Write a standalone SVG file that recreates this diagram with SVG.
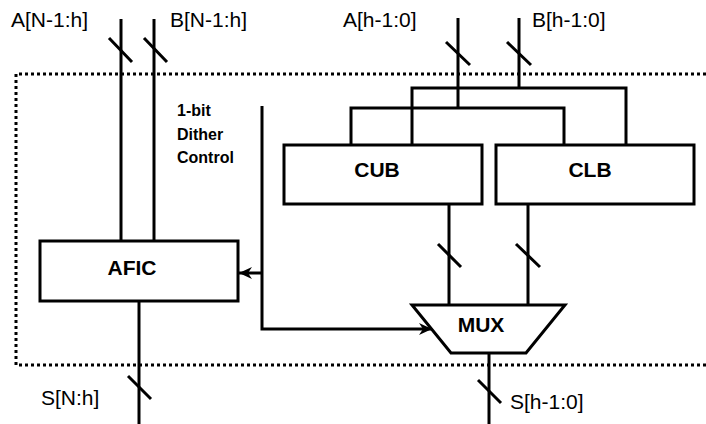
<svg xmlns="http://www.w3.org/2000/svg" width="706" height="424" viewBox="0 0 706 424">
<style>
.w{fill:none;stroke:#000;stroke-width:3}
.box{fill:#fff;stroke:#000;stroke-width:3}
.dot{fill:none;stroke:#000;stroke-width:3;stroke-dasharray:3 3}
.lbl{font-family:"Liberation Sans",Arial,sans-serif;font-size:21px;fill:#000}
.bl{font-family:"Liberation Sans",Arial,sans-serif;font-size:21px;font-weight:bold;fill:#000;text-anchor:middle}
.sm{font-family:"Liberation Sans",Arial,sans-serif;font-size:16px;font-weight:bold;fill:#000}
</style>
<defs>
<marker id="arr" markerUnits="userSpaceOnUse" markerWidth="14" markerHeight="14" viewBox="0 0 14 14" refX="13" refY="7" orient="auto">
<path d="M0,1 L13,7 L0,13 L4,7 Z" fill="#000"/>
</marker>
</defs>
<path class="dot" d="M706,74 H16 V365 H706"/>
<g id="connectors">
<path class="w" d="M121,19 V241"/>
<path class="w" d="M154,19 V241"/>
<path class="w" d="M109,38 L132,62 M144,38 L167,62"/>
<path class="w" d="M458,18 V108 M351,144 V108 H564 V144"/>
<path class="w" d="M519,18 V88 M412,144 V88 H626 V144"/>
<path class="w" d="M446,42 L470,65 M507,42 L531,65"/>
<path class="w" d="M449,204 V305 M528,204 V305"/>
<path class="w" d="M438,244 L461,267 M516,244 L540,267"/>
<path class="w" d="M139,301 V424"/>
<path class="w" d="M128,376 L151,399"/>
<path class="w" d="M489,353 V424"/>
<path class="w" d="M478,380 L501,403"/>
<path class="w" d="M262,106 V329 H432" marker-end="url(#arr)"/>
<path class="w" d="M262,273 H239" marker-end="url(#arr)"/>
</g>
<g id="afic">
<rect class="box" x="40" y="241" width="198" height="60"/>
<text class="bl" x="132" y="275">AFIC</text>
</g>
<g id="cub">
<rect class="box" x="284" y="145" width="198" height="59"/>
<text class="bl" x="377" y="177">CUB</text>
</g>
<g id="clb">
<rect class="box" x="496" y="145" width="198" height="59"/>
<text class="bl" x="590" y="177">CLB</text>
</g>
<g id="mux">
<path class="box" d="M412,305 H565 L526,353 H451 Z"/>
<text class="bl" x="481" y="332">MUX</text>
</g>
<g id="labels">
<text class="lbl" x="11" y="27">A[N-1:h]</text>
<text class="lbl" x="170" y="27">B[N-1:h]</text>
<text class="lbl" x="343" y="27">A[h-1:0]</text>
<text class="lbl" x="532" y="27">B[h-1:0]</text>
<text class="lbl" x="41" y="405">S[N:h]</text>
<text class="lbl" x="510" y="409">S[h-1:0]</text>
<text class="sm" x="177" y="116">1-bit</text>
<text class="sm" x="177" y="140">Dither</text>
<text class="sm" x="177" y="163">Control</text>
</g>
</svg>
